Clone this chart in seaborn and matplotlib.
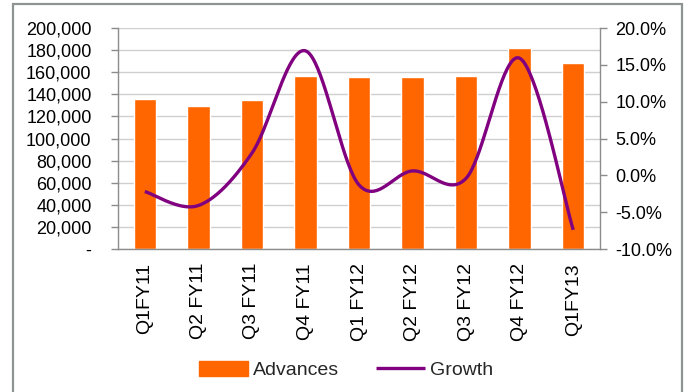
import numpy as np
import pandas as pd
import matplotlib
matplotlib.use("Agg")
import matplotlib.pyplot as plt
import matplotlib.ticker as mticker
from matplotlib.patches import Rectangle
import seaborn as sns

quarters = ["Q1FY11", "Q2 FY11", "Q3 FY11", "Q4 FY11", "Q1 FY12",
            "Q2 FY12", "Q3 FY12", "Q4 FY12", "Q1FY13"]
advances = [135900, 129600, 135000, 156800, 155800, 155800, 156800, 181500, 168500]
growth = [-2.2, -4.1, 3.0, 16.9, -1.3, 0.6, -0.4, 15.9, -7.4]

sns.set_theme(style="white")
plt.rcParams['font.family'] = ['Liberation Sans', 'DejaVu Sans']

df = pd.DataFrame({"Quarter": quarters, "Advances": advances, "Growth": growth})

fig = plt.figure(figsize=(6.9, 3.92), dpi=100)
ax = fig.add_axes([118/690, 1-249/392, (600-118)/690, (249-28)/392])

sns.barplot(data=df, x="Quarter", y="Advances", color="#FF6600", width=0.42,
            saturation=1, ax=ax, zorder=2)
ax.set_xlim(-0.5, len(quarters)-0.5)
ax.set_ylim(0, 200000)
ax.set_yticks(np.arange(0, 200001, 20000))
ax.yaxis.set_major_formatter(mticker.FuncFormatter(
    lambda v, p: "-" if v == 0 else f"{v:,.0f}"))
ax.grid(axis="y", color="#cfcfcf", linewidth=1.0, zorder=0)
ax.set_axisbelow(True)
ax.set_xlabel("")
ax.set_ylabel("")

# category boundary ticks (major) + centered labels (minor)
ax.set_xticks(np.arange(-0.5, len(quarters), 1.0))
ax.set_xticklabels([])
ax.set_xticks(np.arange(len(quarters)), minor=True)
ax.set_xticklabels(quarters, minor=True, rotation=90, fontsize=14, color="black")
ax.tick_params(axis="x", which="major", length=5, width=1, color="#8c8c8c", direction="out")
ax.tick_params(axis="x", which="minor", length=0, pad=10)
ax.tick_params(axis="y", length=5, width=1, color="#8c8c8c", direction="out",
               labelsize=13, labelcolor="black", pad=14, left=True)

for s in ["left", "bottom"]:
    ax.spines[s].set_color("#8c8c8c")
    ax.spines[s].set_linewidth(1.0)
ax.spines["top"].set_visible(False)
ax.spines["right"].set_visible(False)

ax2 = ax.twinx()
# smoothed (Excel-style Bezier) rendering through the growth points
P = np.array(growth, dtype=float)
xs, ys = [], []
n = len(P)
for i in range(n - 1):
    p0 = P[i-1] if i > 0 else P[i]
    p1, p2 = P[i], P[i+1]
    p3 = P[i+2] if i + 2 < n else P[i+1]
    x0 = i - 1 if i > 0 else i
    x3 = i + 2 if i + 2 < n else i + 1
    c1y = p1 + (p2 - p0) / 6
    c2y = p2 - (p3 - p1) / 6
    c1x = i + (i + 1 - x0) / 6
    c2x = i + 1 - (x3 - i) / 6
    t = np.linspace(0, 1, 40)
    bx = (1-t)**3*i + 3*(1-t)**2*t*c1x + 3*(1-t)*t**2*c2x + t**3*(i+1)
    by = (1-t)**3*p1 + 3*(1-t)**2*t*c1y + 3*(1-t)*t**2*c2y + t**3*p2
    xs.extend(bx if i == 0 else bx[1:])
    ys.extend(by if i == 0 else by[1:])
line, = ax2.plot(xs, ys, color="#800080", linewidth=2.4, solid_capstyle="butt", zorder=3)
ax2.set_ylim(-10, 20)
ax2.set_yticks(np.arange(-10, 20.01, 5))
ax2.yaxis.set_major_formatter(mticker.FuncFormatter(lambda v, p: f"{v:.1f}%"))
ax2.tick_params(axis="y", length=5, width=1, color="#8c8c8c", direction="out",
                labelsize=13, labelcolor="black", pad=6, right=True)
ax2.grid(False)
for s in ["left", "top", "bottom"]:
    ax2.spines[s].set_visible(False)
ax2.spines["right"].set_color("#8c8c8c")
ax2.spines["right"].set_linewidth(1.0)
ax2.set_xlim(-0.5, len(quarters)-0.5)

bar_handle = Rectangle((0, 0), 1, 1, color="#FF6600")
fig.legend([bar_handle, line], ["Advances", "Growth"], loc="center",
           bbox_to_anchor=(346/690, 1-370/392), ncol=2, frameon=False,
           fontsize=14, handlelength=2.5, handleheight=0.8,
           handletextpad=0.26, columnspacing=1.9)

border = Rectangle((13/690, -0.05), (682-13)/690, 1.05-4/392, transform=fig.transFigure,
                   fill=False, edgecolor="#8e9494", linewidth=1.6, clip_on=False)
fig.patches.append(border)

fig.savefig("out.png", dpi=100)
